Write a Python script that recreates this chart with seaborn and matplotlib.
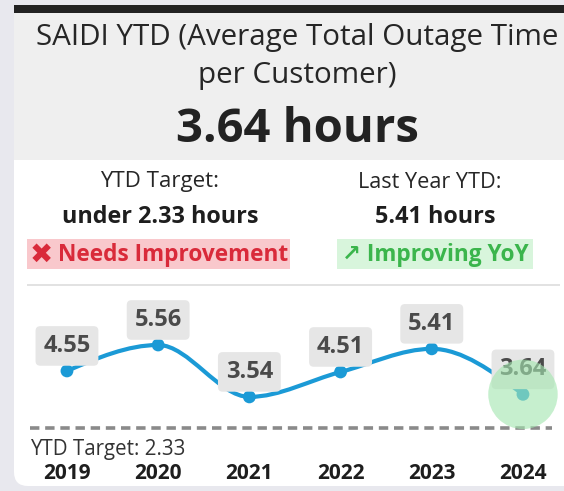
import numpy as np
import pandas as pd
import matplotlib.pyplot as plt
import seaborn as sns
from matplotlib import font_manager
from matplotlib.path import Path
from matplotlib.patches import PathPatch, FancyBboxPatch, Rectangle

# data
years = ['2019', '2020', '2021', '2022', '2023', '2024']
saidi = [4.55, 5.56, 3.54, 4.51, 5.41, 3.64]
target = 2.33
current = 3.64
last_year = 5.41

df = pd.DataFrame({'year': years, 'pos': np.arange(len(years)), 'saidi': saidi})

sns.set_theme(style='white')

# pick a Segoe-like family that actually has a bold face installed
main_font = 'DejaVu Sans'
for fam in ['Noto Sans', 'Open Sans', 'Lato', 'Roboto']:
    try:
        f = font_manager.findfont(font_manager.FontProperties(family=fam, weight='bold'),
                                  fallback_to_default=False)
        if 'bold' in f.lower():
            main_font = fam
            break
    except Exception:
        pass
plt.rcParams['font.family'] = [main_font, 'DejaVu Sans']

W, H = 564, 491
fig = plt.figure(figsize=(W / 100, H / 100), dpi=100)
fig.patch.set_facecolor('#e8e8ee')


def fx(x):
    return x / W


def fy(y):
    return 1 - y / H


def inch_box(x0, y0, x1, y1):
    # pixel box (top-left origin) -> inches from bottom-left
    return x0 / 100, (H - y1) / 100, (x1 - x0) / 100, (y1 - y0) / 100


tr = fig.dpi_scale_trans
# card
bx, by, bw, bh = inch_box(14, 8, 600, 486)
fig.patches.append(FancyBboxPatch((bx, by), bw, bh, boxstyle='round,pad=0,rounding_size=0.14',
                                  transform=tr, fc='white', ec='none', zorder=0))
# header background
bx, by, bw, bh = inch_box(14, 12, 564, 160)
fig.patches.append(Rectangle((bx, by), bw, bh, transform=tr, fc='#efefef', ec='none', zorder=1))
# black top bar
bx, by, bw, bh = inch_box(14, 5, 564, 13)
fig.patches.append(Rectangle((bx, by), bw, bh, transform=tr, fc='#222222', ec='none', zorder=2))
# separator
bx, by, bw, bh = inch_box(27, 284, 560, 286)
fig.patches.append(Rectangle((bx, by), bw, bh, transform=tr, fc='#e2e2e2', ec='none', zorder=2))
# status badges
bx, by, bw, bh = inch_box(27, 239, 290, 269)
fig.patches.append(Rectangle((bx, by), bw, bh, transform=tr, fc='#f9c8cc', ec='none', zorder=2))
bx, by, bw, bh = inch_box(337, 239, 533, 269)
fig.patches.append(Rectangle((bx, by), bw, bh, transform=tr, fc='#d8f5dc', ec='none', zorder=2))

# header texts
fig.text(fx(297), fy(37), 'SAIDI YTD (Average Total Outage Time', ha='center', va='center',
         fontsize=21.3, color='#262626')
fig.text(fx(297), fy(76), 'per Customer)', ha='center', va='center', fontsize=21.3, color='#262626')
fig.text(fx(297), fy(130), f'{current:.2f} hours', ha='center', va='center', fontsize=34,
         fontweight='bold', color='#222222')

fig.text(fx(160), fy(182), 'YTD Target:', ha='center', va='center', fontsize=16, color='#262626')
fig.text(fx(430), fy(182), 'Last Year YTD:', ha='center', va='center', fontsize=15.6, color='#262626')
fig.text(fx(160), fy(217), f'under {target:.2f} hours', ha='center', va='center', fontsize=16.8,
         fontweight='bold', color='#1e1e1e')
fig.text(fx(435), fy(217), f'{last_year:.2f} hours', ha='center', va='center', fontsize=16.8,
         fontweight='bold', color='#1e1e1e')
fig.text(fx(30), fy(255), '\u2716', ha='left', va='center', fontsize=20,
         fontweight='bold', color='#d92a3a', family='DejaVu Sans')
fig.text(fx(288), fy(255), 'Needs Improvement', ha='right', va='center', fontsize=16.3,
         fontweight='bold', color='#d92a3a')
fig.text(fx(435), fy(255), '\u2197 Improving YoY', ha='center', va='center', fontsize=16.3,
         fontweight='bold', color='#3bb54c')

# trend chart
ax = fig.add_axes([fx(20), fy(460), fx(560) - fx(20), fy(300) - fy(460)])
ax.set_zorder(5)
ax.set_facecolor('none')
ax.set_xlim(-0.515, 5.406)
ax.set_ylim(1.085, 7.31)

# smooth monotone curve through the points
y = np.array(saidi)
d = np.diff(y)
n = len(y)
m = np.zeros(n)
for k in range(1, n - 1):
    p = (d[k - 1] + d[k]) / 2
    m[k] = (np.sign(d[k - 1]) + np.sign(d[k])) * min(abs(d[k - 1]), abs(d[k]), 0.5 * abs(p))
m[0] = (3 * d[0] - m[1]) / 2
m[-1] = (3 * d[-1] - m[-2]) / 2
verts = [(0, y[0])]
codes = [Path.MOVETO]
for i in range(n - 1):
    verts += [(i + 1 / 3, y[i] + m[i] / 3), (i + 2 / 3, y[i + 1] - m[i + 1] / 3), (i + 1, y[i + 1])]
    codes += [Path.CURVE4] * 3
ax.add_patch(PathPatch(Path(verts, codes), fc='none', ec='#1b9ad6', lw=3, capstyle='round', zorder=2))

sns.scatterplot(data=df, x='pos', y='saidi', ax=ax, s=85, color='#1b9ad6', edgecolor='none',
                zorder=3, legend=False)

for i, v in enumerate(saidi):
    ax.annotate(f'{v:.2f}', xy=(i, v), xytext=(0, 18), textcoords='offset points',
                ha='center', va='center', fontsize=17, fontweight='bold', color='#4a4a4a',
                bbox=dict(boxstyle='round,pad=0.33,rounding_size=0.2', fc='#e6e6e6', ec='none'),
                zorder=4)

# highlight latest year
ax.scatter([len(saidi) - 1], [saidi[-1]], s=2500, color='#a4e6b0', alpha=0.62, edgecolor='none', zorder=5)

ax.axhline(target, xmin=0.018, xmax=0.985, color='#8a8a8a', lw=2.6, ls=(0, (2.6, 1.6)), zorder=1)
ax.annotate(f'YTD Target: {target:.2f}', xy=(-0.4, target), xytext=(0, -8), textcoords='offset points',
            ha='left', va='top', fontsize=14.8, color='#333333')

ax.set_xticks(df['pos'])
ax.set_xticklabels(years, fontsize=15, fontweight='bold', color='#1e1e1e')
ax.tick_params(axis='x', length=0, pad=2)
ax.set_yticks([])
ax.set_xlabel('')
ax.set_ylabel('')
for s in ax.spines.values():
    s.set_visible(False)

fig.savefig('out.png', dpi=100, facecolor=fig.get_facecolor())
